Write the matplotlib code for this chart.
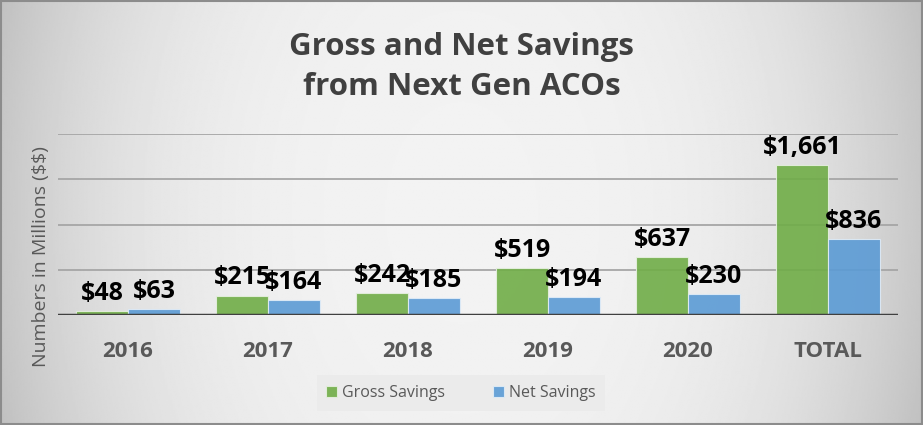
import matplotlib
matplotlib.use("Agg")
import matplotlib.pyplot as plt
import numpy as np

categories = ["2016", "2017", "2018", "2019", "2020", "TOTAL"]
gross = [48, 215, 242, 519, 637, 1661]
net = [63, 164, 185, 194, 230, 836]
labels_gross = ["$48", "$215", "$242", "$519", "$637", "$1,661"]
labels_net = ["$63", "$164", "$185", "$194", "$230", "$836"]

plt.rcParams['font.family'] = ['Open Sans', 'DejaVu Sans']
plt.rcParams['text.parse_math'] = False

fig = plt.figure(figsize=(9.23, 4.25), dpi=100)

# elliptical gradient background, light in the middle, grey at the sides
bg = fig.add_axes([0, 0, 1, 1])
yy, xx = np.mgrid[-1:1:300j, -1:1:600j]
rr = np.sqrt(xx ** 2 + 0.1 * yy ** 2)
bg.imshow(0.95 - 0.17 * rr ** 3, cmap='gray', vmin=0, vmax=1,
          aspect='auto', extent=[0, 1, 0, 1], interpolation='bilinear')
bg.set_xlim(0, 1)
bg.set_ylim(0, 1)
bg.axis('off')
bg.add_patch(plt.Rectangle((0.001, 0.002), 0.998, 0.996, fill=False, edgecolor='#8c8c8c', linewidth=1.5))

ax = fig.add_axes([58 / 923, 1 - 315 / 425, 840 / 923, 181 / 425])
ax.patch.set_alpha(0)

x = np.arange(len(categories))
w = 0.37
b1 = ax.bar(x - w / 2, gross, w, color='#70ad47', alpha=0.9, edgecolor='#e6f0e0', linewidth=0.8,
            label='Gross Savings', zorder=3)
b2 = ax.bar(x + w / 2, net, w, color='#5b9bd5', alpha=0.9, edgecolor='#e0ecf7', linewidth=0.8,
            label='Net Savings', zorder=3)

for rect, lab in zip(b1, labels_gross):
    ax.annotate(lab, (rect.get_x() + rect.get_width() / 2, rect.get_height()), xytext=(0, 8),
                textcoords='offset points', ha='center', va='baseline', fontsize=18, fontweight='bold',
                color='black', zorder=5)
for rect, lab in zip(b2, labels_net):
    ax.annotate(lab, (rect.get_x() + rect.get_width() / 2, rect.get_height()), xytext=(0, 8),
                textcoords='offset points', ha='center', va='baseline', fontsize=18, fontweight='bold',
                color='black', zorder=5)

ax.set_xlim(-0.5, len(categories) - 0.5)
ax.set_ylim(0, 2000)
ax.set_yticks([500, 1000, 1500, 2000])
ax.yaxis.grid(True, color='#a6a6a6', linewidth=1.3, zorder=0)
ax.set_yticklabels([])
ax.tick_params(axis='y', length=0)
ax.tick_params(axis='x', length=0, pad=19)
ax.set_xticks(x)
ax.set_xticklabels(categories, fontsize=16, fontweight='bold', color='#595959')
ax.axhline(0, color='#404040', linewidth=2.5, zorder=4)
for s in ax.spines.values():
    s.set_visible(False)

ax.set_ylabel('Numbers in Millions ($$)', fontsize=14, color='#595959')
ax.yaxis.set_label_coords(-8 / 840, (315 - 257) / 181)

fig.text(0.5, 1 - 67 / 425, 'Gross and Net Savings\nfrom Next Gen ACOs', ha='center', va='center',
         fontsize=22.5, fontweight='bold', color='#404040', linespacing=1.45)

leg = fig.legend(loc='center', bbox_to_anchor=(461 / 923, 1 - 393 / 425), ncol=2, frameon=True,
                 fontsize=11.5, handlelength=0.7, handleheight=0.7, columnspacing=3.0, handletextpad=0.3,
                 borderpad=0.6, borderaxespad=0)
leg.get_frame().set_facecolor('#ebebeb')
leg.get_frame().set_edgecolor('none')
leg.get_frame().set_alpha(1)
leg.get_frame().set_boxstyle('square', pad=0)
for t in leg.get_texts():
    t.set_color('#595959')

fig.savefig('out.png', dpi=100)
